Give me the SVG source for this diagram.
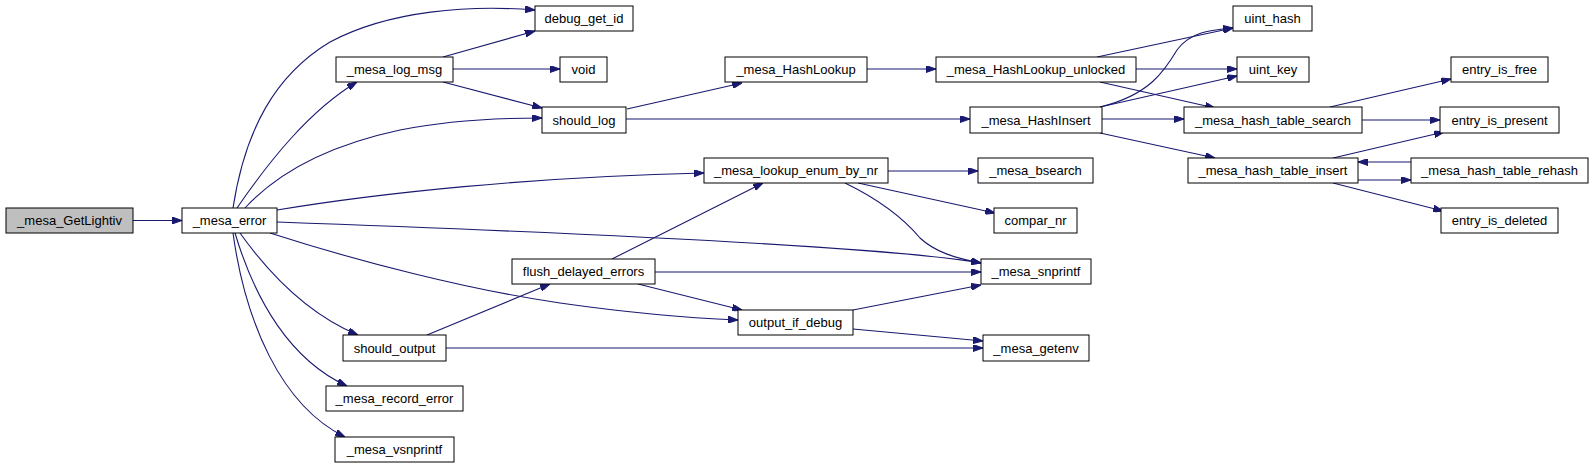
<svg xmlns="http://www.w3.org/2000/svg" width="1595" height="468" viewBox="0 0 1595 468">
<style>
.n rect{fill:#fff;stroke:#000;stroke-width:1}
.n text{font-family:"Liberation Sans",Arial,sans-serif;font-size:13px;text-anchor:middle;fill:#000}
#edges path{fill:none;stroke:#191970;stroke-width:1.1;marker-end:url(#ah)}
</style>
<defs>
<marker id="ah" viewBox="0 0 10 7" refX="10" refY="3.5" markerWidth="10" markerHeight="7" markerUnits="userSpaceOnUse" orient="auto">
<path d="M0,0 L10,3.5 L0,7 z" fill="#191970" stroke="#191970"/>
</marker>
</defs>
<rect width="1595" height="468" fill="#fff"/>
<g id="edges">
<path d="M133,220.5 L182,220.5"/>
<path d="M233,208 C245,130 275,75 330,42 C390,10 470,5 535,10"/>
<path d="M237,208 C270,160 310,110 357,82"/>
<path d="M443,57 L535,31"/>
<path d="M453,69 L560,69"/>
<path d="M443,82 L542,108"/>
<path d="M245,208 C280,170 330,145 400,130 C450,120 500,118 542,118"/>
<path d="M277,210 C380,193 530,177 704,173"/>
<path d="M277,222 C500,230 880,245 981,263"/>
<path d="M270,233 C360,262 470,290 560,303 C630,313 690,318 738,320"/>
<path d="M240,233 C270,275 310,315 358,335"/>
<path d="M235,233 C255,300 290,360 347,386"/>
<path d="M233,233 C245,320 280,405 345,437"/>
<path d="M427,335 L550,284"/>
<path d="M446,348 L983,348"/>
<path d="M612,259 L763,183"/>
<path d="M655,272 L981,272"/>
<path d="M638,284 L742,310"/>
<path d="M853,310 L981,285"/>
<path d="M853,329 L983,341"/>
<path d="M888,171 L978,171"/>
<path d="M858,183 L995,213"/>
<path d="M845,183 C880,200 905,220 920,238 C935,252 955,258 981,263"/>
<path d="M627,109 L742,83"/>
<path d="M626,119 L970,119"/>
<path d="M867,69 L936,69"/>
<path d="M1097,57 L1233,28"/>
<path d="M1136,69 L1237,69"/>
<path d="M1100,82 L1215,108"/>
<path d="M1100,107 C1150,95 1165,70 1177,50 C1190,32 1210,30 1233,28"/>
<path d="M1100,107 L1237,76"/>
<path d="M1102,119 L1184,119"/>
<path d="M1100,133 L1215,158"/>
<path d="M1330,107 L1451,79"/>
<path d="M1362,120 L1440,120"/>
<path d="M1333,158 L1444,132"/>
<path d="M1411,162 L1358,162"/>
<path d="M1358,180 L1411,180"/>
<path d="M1333,183 L1443,211"/>
</g>
<g id="n_GetLightiv" class="n"><rect x="6" y="208" width="127" height="25" style="fill:#bfbfbf"/><text x="69.5" y="225">_mesa_GetLightiv</text></g>
<g id="n_mesa_error" class="n"><rect x="182" y="208" width="95" height="25"/><text x="229.5" y="225">_mesa_error</text></g>
<g id="n_log_msg" class="n"><rect x="336" y="57" width="117" height="25"/><text x="394.5" y="74">_mesa_log_msg</text></g>
<g id="n_debug_get_id" class="n"><rect x="535" y="6" width="98" height="25"/><text x="584" y="23">debug_get_id</text></g>
<g id="n_void" class="n"><rect x="560" y="57" width="47" height="25"/><text x="583.5" y="74">void</text></g>
<g id="n_should_log" class="n"><rect x="542" y="107" width="84" height="26"/><text x="584" y="124.5">should_log</text></g>
<g id="n_HashLookup" class="n"><rect x="725" y="57" width="142" height="25"/><text x="796" y="74">_mesa_HashLookup</text></g>
<g id="n_HashLookup_unlocked" class="n"><rect x="936" y="57" width="200" height="25"/><text x="1036" y="74">_mesa_HashLookup_unlocked</text></g>
<g id="n_HashInsert" class="n"><rect x="970" y="107" width="132" height="26"/><text x="1036" y="124.5">_mesa_HashInsert</text></g>
<g id="n_lookup_enum" class="n"><rect x="704" y="158" width="184" height="25"/><text x="796" y="175">_mesa_lookup_enum_by_nr</text></g>
<g id="n_bsearch" class="n"><rect x="978" y="158" width="115" height="25"/><text x="1035.5" y="175">_mesa_bsearch</text></g>
<g id="n_compar_nr" class="n"><rect x="994" y="208" width="83" height="25"/><text x="1035.5" y="225">compar_nr</text></g>
<g id="n_uint_hash" class="n"><rect x="1233" y="6" width="79" height="25"/><text x="1272.5" y="23">uint_hash</text></g>
<g id="n_uint_key" class="n"><rect x="1237" y="57" width="72" height="25"/><text x="1273" y="74">uint_key</text></g>
<g id="n_entry_is_free" class="n"><rect x="1451" y="57" width="97" height="25"/><text x="1499.5" y="74">entry_is_free</text></g>
<g id="n_ht_search" class="n"><rect x="1184" y="107" width="178" height="26"/><text x="1273" y="124.5">_mesa_hash_table_search</text></g>
<g id="n_entry_is_present" class="n"><rect x="1440" y="107" width="119" height="26"/><text x="1499.5" y="124.5">entry_is_present</text></g>
<g id="n_ht_insert" class="n"><rect x="1188" y="158" width="170" height="25"/><text x="1273" y="175">_mesa_hash_table_insert</text></g>
<g id="n_ht_rehash" class="n"><rect x="1411" y="158" width="177" height="25"/><text x="1499.5" y="175">_mesa_hash_table_rehash</text></g>
<g id="n_entry_is_deleted" class="n"><rect x="1441" y="208" width="117" height="25"/><text x="1499.5" y="225">entry_is_deleted</text></g>
<g id="n_flush" class="n"><rect x="512" y="259" width="143" height="25"/><text x="583.5" y="276">flush_delayed_errors</text></g>
<g id="n_snprintf" class="n"><rect x="981" y="259" width="110" height="25"/><text x="1036" y="276">_mesa_snprintf</text></g>
<g id="n_output_if_debug" class="n"><rect x="738" y="310" width="115" height="25"/><text x="795.5" y="327">output_if_debug</text></g>
<g id="n_getenv" class="n"><rect x="983" y="335" width="106" height="26"/><text x="1036" y="352.5">_mesa_getenv</text></g>
<g id="n_should_output" class="n"><rect x="343" y="335" width="103" height="26"/><text x="394.5" y="352.5">should_output</text></g>
<g id="n_record_error" class="n"><rect x="326" y="386" width="137" height="25"/><text x="394.5" y="403">_mesa_record_error</text></g>
<g id="n_vsnprintf" class="n"><rect x="335" y="437" width="119" height="25"/><text x="394.5" y="454">_mesa_vsnprintf</text></g>
</svg>
